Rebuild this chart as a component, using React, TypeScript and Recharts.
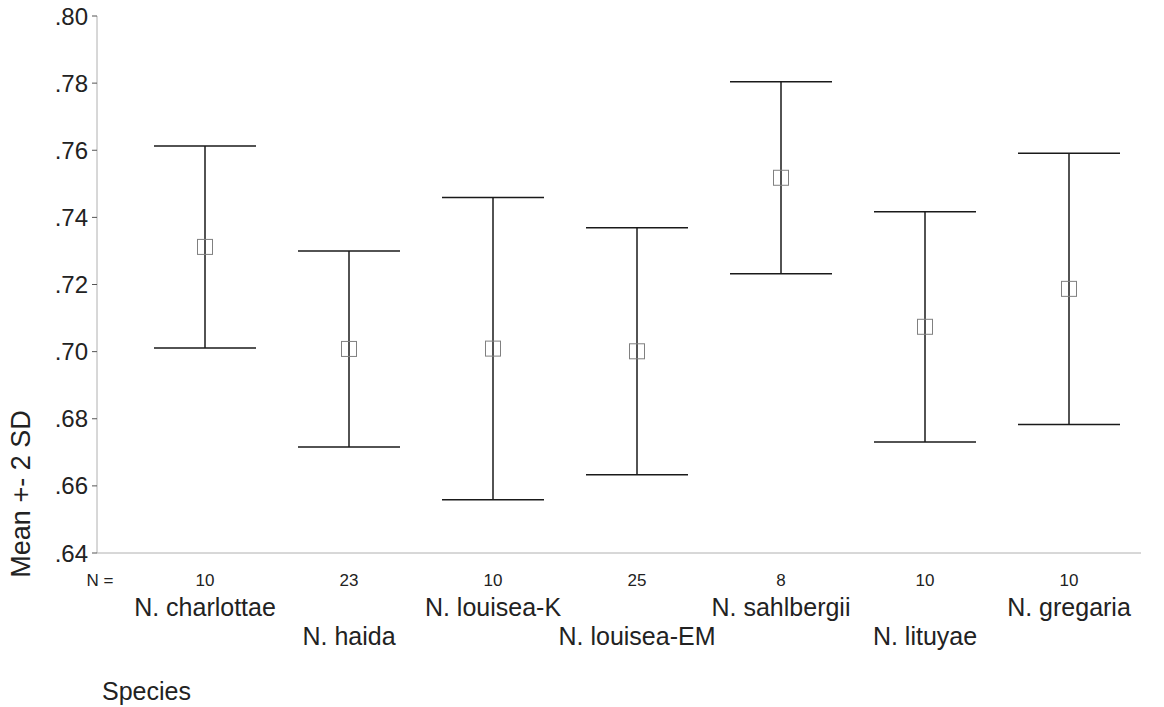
import React from 'react';
import { ComposedChart, Line, ErrorBar, XAxis, YAxis } from 'recharts';

const species = ['N. charlottae', 'N. haida', 'N. louisea-K', 'N. louisea-EM', 'N. sahlbergii', 'N. lituyae', 'N. gregaria'];
const counts = [10, 23, 10, 25, 8, 10, 10];
const means = [0.7312, 0.7008, 0.7009, 0.7001, 0.7518, 0.7074, 0.7187];
const twoSD = [0.0301, 0.0292, 0.045, 0.0368, 0.0286, 0.0343, 0.0404];
const yTicks = [0.64, 0.66, 0.68, 0.7, 0.72, 0.74, 0.76, 0.78, 0.8];

const data = species.map((name, i) => ({ name, n: counts[i], mean: means[i], err: twoSD[i] }));

const FONT = 'Arial, "Liberation Sans", sans-serif';

const fmt = (v: number) => v.toFixed(2).replace(/^0/, '');

// hollow square marker used by SPSS for the mean
const Square = (props: any) => {
  const { cx, cy } = props;
  if (cx == null || cy == null) return null;
  return <rect x={cx - 7.5} y={cy - 7.5} width={15} height={15} fill="none" stroke="#808080" strokeWidth={1} />;
};

const SpeciesTick = (props: any) => {
  const { x, y, payload } = props;
  const i = payload.index;
  return (
    <g>
      {i === 0 && (
        <text x={x - 105} y={y + 27} textAnchor="middle" dominantBaseline="central" fontSize={17} fill="#222" fontFamily={FONT}>
          N =
        </text>
      )}
      <text x={x} y={y + 27} textAnchor="middle" dominantBaseline="central" fontSize={17} fill="#222" fontFamily={FONT}>
        {counts[i]}
      </text>
      <text x={x} y={y + (i % 2 === 0 ? 54 : 83)} textAnchor="middle" dominantBaseline="central" fontSize={25} fill="#222" fontFamily={FONT}>
        {species[i]}
      </text>
    </g>
  );
};

export default function App() {
  return (
    <div style={{ position: 'absolute', left: 0, top: 0, width: 1164, height: 707, background: '#fff', fontFamily: FONT }}>
      <ComposedChart width={1164} height={707} data={data} margin={{ top: 16, right: 23, bottom: 0, left: 0 }}>
        <XAxis
          dataKey="name"
          type="category"
          height={154}
          padding={{ left: 108, right: 72 }}
          axisLine={{ stroke: '#b0b0b0', strokeWidth: 1 }}
          tickLine={false}
          tickSize={0}
          tickMargin={0}
          interval={0}
          tick={<SpeciesTick />}
        />
        <YAxis
          type="number"
          domain={[0.64, 0.8]}
          ticks={yTicks}
          width={97}
          tickFormatter={fmt}
          axisLine={{ stroke: '#b0b0b0', strokeWidth: 1 }}
          tickLine={{ stroke: '#555', strokeWidth: 1 }}
          tickSize={5}
          tickMargin={4}
          tick={{ fontSize: 24, fill: '#222', fontFamily: FONT }}
        />
        <Line
          dataKey="mean"
          stroke="none"
          dot={<Square />}
          activeDot={false}
          isAnimationActive={false}
        >
          <ErrorBar dataKey="err" direction="y" width={51} stroke="#1a1a1a" strokeWidth={1.5} />
        </Line>
      </ComposedChart>
      <div style={{ position: 'absolute', left: 102, top: 691, transform: 'translateY(-50%)', fontSize: 25, color: '#222' }}>
        Species
      </div>
      <div
        style={{
          position: 'absolute',
          left: 21,
          top: 494,
          transform: 'translate(-50%, -50%) rotate(-90deg)',
          fontSize: 27,
          color: '#222',
          whiteSpace: 'nowrap',
        }}
      >
        Mean +- 2 SD
      </div>
    </div>
  );
}
